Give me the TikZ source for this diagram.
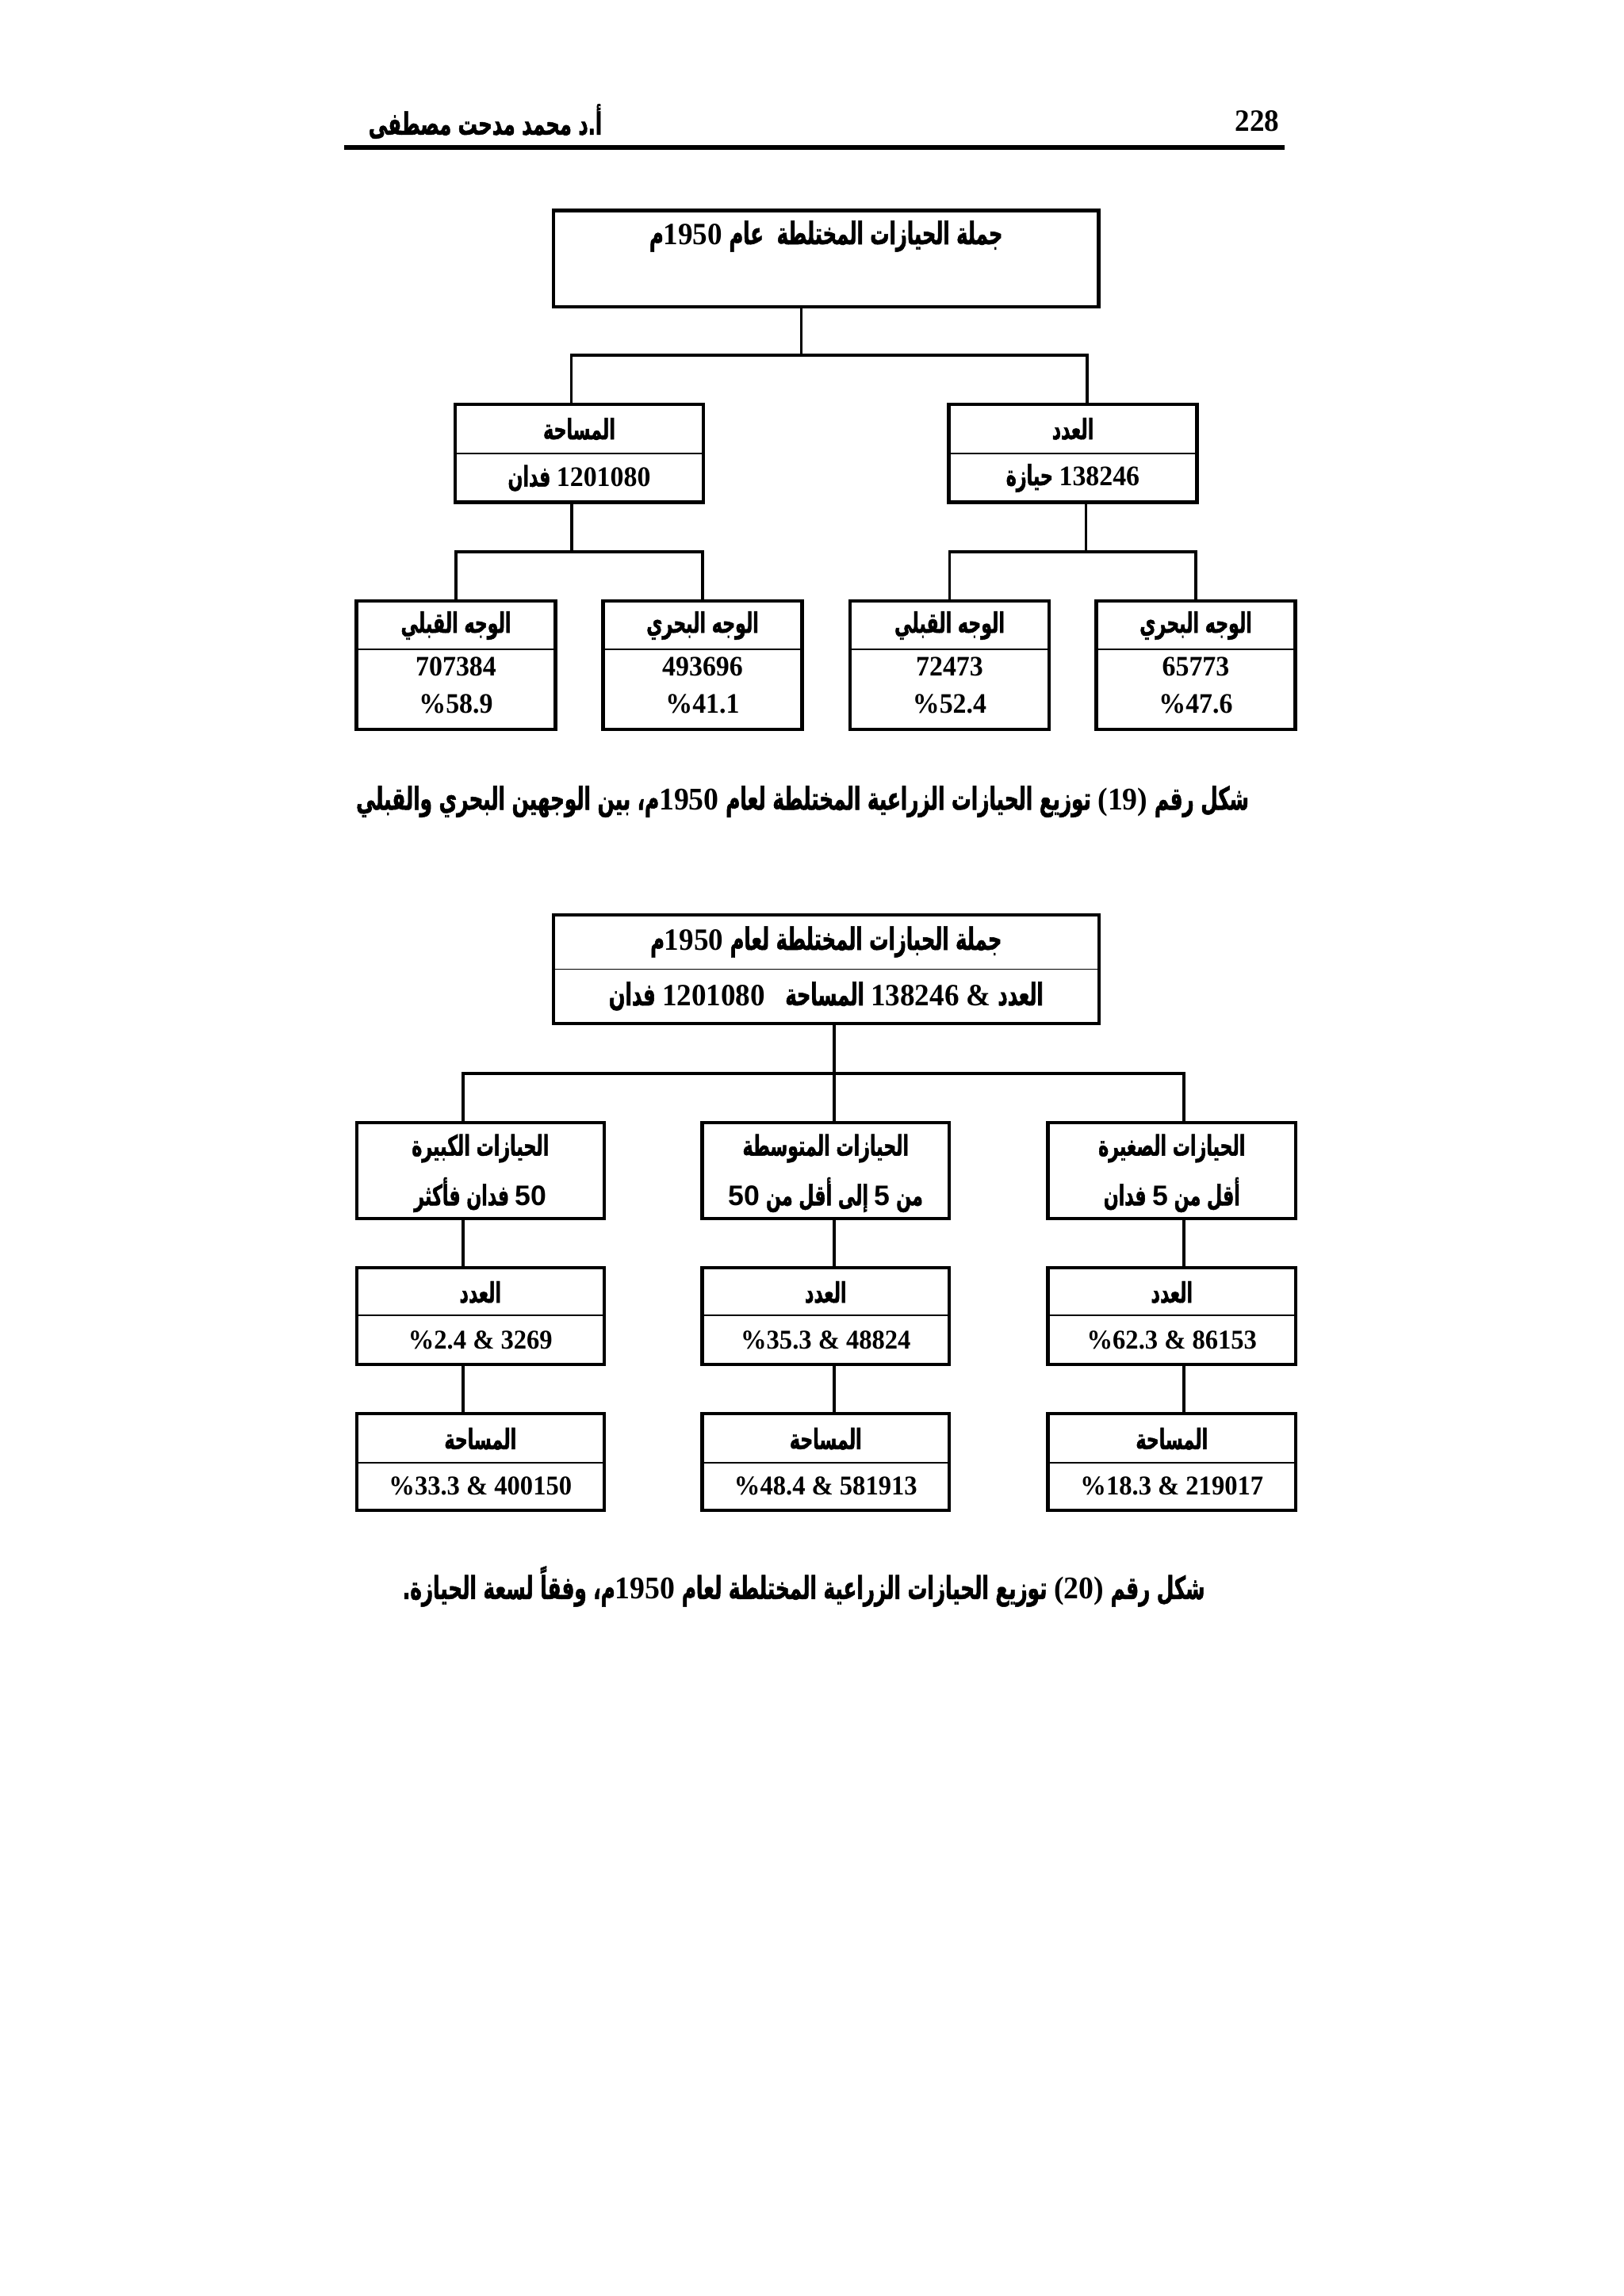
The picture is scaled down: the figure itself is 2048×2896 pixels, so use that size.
\documentclass[tikz,border=0pt]{standalone}
\usepackage{fontspec}
\usetikzlibrary{fit}
\TeXXeTstate=1
\newfontfamily\arabicfont[Script=Arabic, FakeStretch=0.62, BoldFeatures={FakeBold=1.3}]{DejaVu Sans}
\newfontfamily\numfont[FakeStretch=0.95]{Liberation Serif}
\newfontfamily\sansnumfont{Liberation Sans}
\newcommand{\artxt}[1]{{\arabicfont\bfseries\beginR #1\endR}}
\newcommand{\numtxt}[1]{\beginL{\numfont\bfseries #1}\endL{}}
\newcommand{\sntxt}[1]{\beginL{\sansnumfont\bfseries #1}\endL{}}
\tikzset{
  boxs/.style={draw, line width=1.2pt, inner sep=0pt},
  conn/.style={line width=1.1pt},
  divl/.style={line width=0.5pt},
  lbl/.style={inner sep=0pt, anchor=center, font=\fontsize{10.4}{12}\selectfont},
  lblsm/.style={inner sep=0pt, anchor=center, font=\fontsize{10}{12}\selectfont},
  ttl/.style={inner sep=0pt, anchor=center, font=\fontsize{11.4}{13}\selectfont},
  captxt/.style={inner sep=0pt, anchor=center, font=\fontsize{11.6}{14}\selectfont},
}
\begin{document}
\begin{tikzpicture}[x=0.0102539cm, y=-0.0102539cm]
\useasboundingbox (0,0) rectangle (2048,2896);
% header
\node[ttl, anchor=east] (pg) at (1614,153) {\numtxt{228}};
\node[ttl] (auth) at (612,153) {\artxt{أ.د محمد مدحت مصطفى}};
\draw[line width=1.5pt] (434,186) -- (1619.5,186);

% ---------- Figure 19 ----------
\node[boxs, fit={(698,265.5) (1385.5,386.7)}] (t19) {};
\node[ttl] (t19a) at (1041.75,298) {\artxt{جملة الحيازات المختلطة~~عام \numtxt{1950}م}};

\node[boxs, fit={(574,509.7) (887,633.5)}] (a19) {};
\node[boxs, fit={(1196.5,509.7) (1509.5,633.5)}] (b19) {};
\draw[divl] (a19.west |- 0,572) -- (a19.east |- 0,572);
\draw[divl] (b19.west |- 0,572) -- (b19.east |- 0,572);
\node[lbl] (a19a) at (730.5,541) {\artxt{المساحة}};
\node[lbl] (a19b) at (730.5,603) {\artxt{\numtxt{1201080} فدان}};
\node[lbl] (b19a) at (1353,541) {\artxt{العدد}};
\node[lbl] (b19b) at (1353,603) {\artxt{\numtxt{138246} حيازة}};

\node[boxs, fit={(449.5,757.8) (700.5,920)}] (c19) {};
\node[boxs, fit={(760.5,757.8) (1011.5,920)}] (d19) {};
\node[boxs, fit={(1072,757.8) (1323,920)}] (e19) {};
\node[boxs, fit={(1382.5,757.8) (1633.5,920)}] (f19) {};
\foreach \b in {c19,d19,e19,f19}{
  \draw[divl] (\b.west |- 0,818.7) -- (\b.east |- 0,818.7);
}
\node[lbl] (c19a) at (575,789) {\artxt{الوجه القبلي}};
\node[lbl] (c19b) at (575,841) {\numtxt{707384}};
\node[lbl] (c19c) at (575,888) {\numtxt{\%58.9}};
\node[lbl] (d19a) at (886,789) {\artxt{الوجه البحري}};
\node[lbl] (d19b) at (886,841) {\numtxt{493696}};
\node[lbl] (d19c) at (886,888) {\numtxt{\%41.1}};
\node[lbl] (e19a) at (1197.5,789) {\artxt{الوجه القبلي}};
\node[lbl] (e19b) at (1197.5,841) {\numtxt{72473}};
\node[lbl] (e19c) at (1197.5,888) {\numtxt{\%52.4}};
\node[lbl] (f19a) at (1508,789) {\artxt{الوجه البحري}};
\node[lbl] (f19b) at (1508,841) {\numtxt{65773}};
\node[lbl] (f19c) at (1508,888) {\numtxt{\%47.6}};

\coordinate (j19) at (1010.5,448);
\draw[conn] (t19.south -| j19) -- (j19);
\draw[conn] (a19.north -| 720.5,0) -- (720.5,448) -- (1371,448) -- (b19.north -| 1371,0);
\draw[conn] (a19.south -| 721,0) -- (721,695.6);
\draw[conn] (c19.north) -- (c19.north |- 0,695.6) -- (d19.north |- 0,695.6) -- (d19.north);
\draw[conn] (b19.south -| 1369.5,0) -- (1369.5,695.6);
\draw[conn] (e19.north) -- (e19.north |- 0,695.6) -- (f19.north |- 0,695.6) -- (f19.north);

\node[captxt] (cap19) at (1012,1011) {\artxt{شكل رقم \numtxt{(19)} توزيع الحيازات الزراعية المختلطة لعام \numtxt{1950}م، بين الوجهين البحري والقبلي}};

% ---------- Figure 20 ----------
\node[boxs, fit={(698,1153.6) (1385.6,1290.6)}] (t20) {};
\draw[divl] (t20.west |- 0,1222.5) -- (t20.east |- 0,1222.5);
\node[ttl] (t20a) at (1041.8,1188) {\artxt{جملة الحبازات المختلطة لعام \numtxt{1950}م}};
\node[ttl] (t20b) at (1041.8,1256.5) {\artxt{العدد \numtxt{138246 \&} المساحة~~ \numtxt{1201080} فدان}};

\node[boxs, fit={(449.6,1416.4) (762,1536.6)}] (g20) {};
\node[boxs, fit={(885.5,1416.4) (1197,1536.6)}] (h20) {};
\node[boxs, fit={(1321.5,1416.4) (1634,1536.6)}] (i20) {};
\node[lbl] (g20a) at (605.8,1448.5) {\artxt{الحيازات الكبيرة}};
\node[lbl] (g20b) at (605.8,1507) {\artxt{\sntxt{50} فدان فأكثر}};
\node[lbl] (h20a) at (1041.3,1448.5) {\artxt{الحيازات المتوسطة}};
\node[lbl] (h20b) at (1041.3,1507) {\artxt{من \sntxt{5} إلى أقل من \sntxt{50}}};
\node[lbl] (i20a) at (1477.8,1448.5) {\artxt{الحيازات الصغيرة}};
\node[lbl] (i20b) at (1477.8,1507) {\artxt{أقل من \sntxt{5} فدان}};

\node[boxs, fit={(449.6,1599) (762,1721)}] (g21) {};
\node[boxs, fit={(885.5,1599) (1197,1721)}] (h21) {};
\node[boxs, fit={(1321.5,1599) (1634,1721)}] (i21) {};
\node[boxs, fit={(449.6,1783.4) (762,1905)}] (g22) {};
\node[boxs, fit={(885.5,1783.4) (1197,1905)}] (h22) {};
\node[boxs, fit={(1321.5,1783.4) (1634,1905)}] (i22) {};
\foreach \b in {g21,h21,i21}{
  \draw[divl] (\b.west |- 0,1659) -- (\b.east |- 0,1659);
}
\foreach \b in {g22,h22,i22}{
  \draw[divl] (\b.west |- 0,1845) -- (\b.east |- 0,1845);
}
\node[lbl] (g21a) at (605.8,1630) {\artxt{العدد}};
\node[lblsm] (g21b) at (605.8,1690.5) {\numtxt{\%2.4 \& 3269}};
\node[lbl] (h21a) at (1041.3,1630) {\artxt{العدد}};
\node[lblsm] (h21b) at (1041.3,1690.5) {\numtxt{\%35.3 \& 48824}};
\node[lbl] (i21a) at (1477.8,1630) {\artxt{العدد}};
\node[lblsm] (i21b) at (1477.8,1690.5) {\numtxt{\%62.3 \& 86153}};
\node[lbl] (g22a) at (605.8,1814.7) {\artxt{المساحة}};
\node[lblsm] (g22b) at (605.8,1874.8) {\numtxt{\%33.3 \& 400150}};
\node[lbl] (h22a) at (1041.3,1814.7) {\artxt{المساحة}};
\node[lblsm] (h22b) at (1041.3,1874.8) {\numtxt{\%48.4 \& 581913}};
\node[lbl] (i22a) at (1477.8,1814.7) {\artxt{المساحة}};
\node[lblsm] (i22b) at (1477.8,1874.8) {\numtxt{\%18.3 \& 219017}};

\draw[conn] (t20.south -| 1052,0) -- (1052,1354);
\draw[conn] (g20.north -| 584,0) -- (584,1354) -- (1493,1354) -- (i20.north -| 1493,0);
\draw[conn] (h20.north -| 1052,0) -- (1052,1354);
\draw[conn] (g20.south -| 584,0) -- (g21.north -| 584,0);
\draw[conn] (h20.south -| 1052,0) -- (h21.north -| 1052,0);
\draw[conn] (i20.south -| 1493,0) -- (i21.north -| 1493,0);
\draw[conn] (g21.south -| 584,0) -- (g22.north -| 584,0);
\draw[conn] (h21.south -| 1052,0) -- (h22.north -| 1052,0);
\draw[conn] (i21.south -| 1493,0) -- (i22.north -| 1493,0);

\node[captxt] (cap20) at (1013.7,2001) {\artxt{شكل رقم \numtxt{(20)} توزيع الحيازات الزراعية المختلطة لعام \numtxt{1950}م، وفقاً لسعة الحيازة.}};
\end{tikzpicture}
\end{document}
